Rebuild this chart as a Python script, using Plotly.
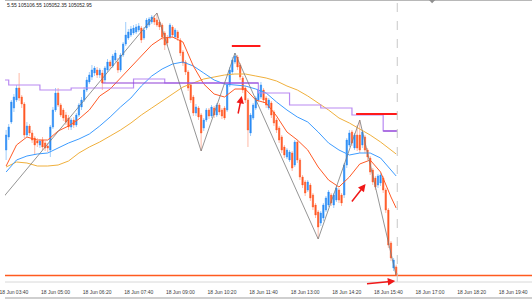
import pandas as pd
import plotly.graph_objects as go

# ---- data -------------------------------------------------------------
bar_times = pd.date_range("2025-06-18 03:25", periods=151, freq="5min")

opens = [105680,105745,105820,105890,105930,105990,105945,105910,105755,105800,
         105765,105740,105725,105705,105730,105715,105700,105680,105795,105880,
         105965,105905,105880,105855,105840,105795,105830,105805,105855,105895,
         105930,105980,106020,106045,106065,106080,106055,106065,106030,106080,
         106120,106100,106130,106120,106080,106155,106210,106240,106255,106265,
         106270,106280,106290,106240,106290,106305,106320,106340,106330,106320,
         106305,106265,106240,106245,106295,106245,106270,106230,106170,106120,
         106070,106005,105945,105865,105890,105855,105790,105830,105880,105850,
         105890,105855,105905,105880,105890,105880,106005,106070,106120,106145,
         106105,106040,105990,105930,105765,105840,105890,105930,105945,105980,
         105940,105890,105915,105870,105830,105790,105745,105695,105645,105630,
         105665,105605,105720,105630,105545,105520,105480,105505,105455,105405,
         105370,105315,105340,105380,105405,105455,105405,105430,105480,105455,
         105455,105605,105705,105770,105690,105755,105755,105705,105745,105680,
         105640,105580,105540,105505,105515,105540,105480,105380,105215,105090,
         105095.55]
highs = [105780,105810,105930,105960,106005,106065,105955,105920,105820,105810,
         105780,105750,105740,105735,105745,105725,105715,105805,105895,105990,
         105990,105915,105890,105870,105855,105840,105845,105865,105915,105945,
         105995,106045,106070,106105,106100,106095,106090,106080,106100,106135,
         106130,106160,106180,106140,106165,106220,106320,106285,106300,106305,
         106310,106315,106300,106295,106340,106345,106355,106355,106365,106330,
         106315,106275,106255,106315,106305,106290,106280,106240,106180,106130,
         106080,106015,105955,105910,105900,105865,105840,105890,105890,105905,
         105900,105915,105915,105890,105900,106015,106095,106145,106165,106155,
         106115,106050,106000,105940,105865,105915,105950,105990,106020,105990,
         105950,105940,105925,105880,105840,105800,105755,105705,105690,105680,
         105675,105730,105730,105640,105555,105530,105530,105515,105465,105415,
         105380,105375,105415,105450,105480,105465,105465,105500,105490,105465,
         105615,105740,105780,105780,105765,105805,105830,105780,105755,105690,
         105650,105590,105550,105560,105565,105550,105490,105390,105225,105140,
         105106.55]
lows = [105630,105730,105810,105870,105920,105925,105890,105740,105745,105750,
        105715,105655,105695,105690,105680,105675,105670,105645,105785,105870,
        105895,105845,105825,105805,105780,105780,105790,105795,105845,105880,
        105920,105970,106010,106030,106050,106040,106040,105980,106015,106070,
        106085,106090,106120,106065,106070,106145,106200,106230,106245,106255,
        106260,106270,106215,106230,106280,106295,106310,106305,106295,106280,
        106230,106180,106200,106235,106240,106235,106225,106150,106100,106055,
        105975,105915,105850,105850,105830,105675,105775,105820,105835,105840,
        105840,105845,105855,105835,105830,105870,105995,106060,106110,106080,
        106030,105965,105915,105695,105750,105830,105880,105920,105935,105915,
        105890,105880,105840,105800,105765,105715,105665,105640,105635,105620,
        105575,105595,105615,105530,105490,105450,105470,105425,105380,105340,
        105235,105300,105325,105370,105395,105400,105390,105420,105415,105400,
        105440,105590,105695,105700,105680,105675,105665,105690,105665,105630,
        105555,105505,105480,105490,105500,105465,105365,105190,105125,105075,
        105052.35]
closes = [105755,105795,105920,105945,105990,105940,105910,105755,105800,105765,
          105730,105705,105715,105725,105695,105690,105690,105795,105880,105965,
          105905,105855,105840,105820,105795,105830,105805,105855,105905,105930,
          105980,106030,106055,106080,106090,106055,106080,106015,106090,106120,
          106100,106150,106165,106080,106155,106210,106255,106270,106285,106290,
          106295,106300,106230,106280,106330,106335,106345,106320,106305,106295,
          106245,106205,106215,106305,106255,106280,106240,106165,106115,106070,
          105990,105930,105865,105895,105845,105765,105830,105880,105850,105895,
          105855,105905,105870,105850,105840,106005,106080,106130,106150,106095,
          106045,105980,105930,105780,105855,105905,105940,105980,106005,105930,
          105905,105930,105855,105815,105780,105730,105680,105655,105680,105670,
          105590,105720,105630,105545,105505,105465,105520,105440,105395,105355,
          105295,105365,105405,105440,105470,105415,105455,105490,105430,105415,
          105605,105730,105765,105715,105755,105690,105680,105770,105680,105645,
          105570,105520,105495,105550,105555,105480,105380,105205,105140,105130,
          105052.95]

# moving averages, read every 4th bar (plus the last bar)
ma_bars = list(range(0, 149, 4)) + [150]
ma_fast = [105600,105705,105745,105730,105730,105775,105800,105835,105880,105950,
           105985,106040,106095,106150,106205,106240,106245,106220,106100,106010,
           105960,105945,105985,105985,105930,105915,105850,105770,105730,105680,
           105595,105530,105495,105545,105610,105630,105570,105445,105390]
ma_mid = [105570,105630,105650,105660,105665,105690,105715,105735,105760,105800,
          105845,105895,105940,106000,106050,106085,106110,106120,106100,106065,
          106030,106010,106005,106000,105985,105965,105920,105880,105845,105820,
          105770,105715,105680,105655,105665,105665,105640,105580,105550]
ma_slow = [105595,105620,105615,105600,105600,105605,105625,105665,105695,105720,
           105750,105780,105815,105855,105890,105925,105960,105995,106015,106035,
           106045,106055,106060,106060,106050,106040,106025,106000,105980,105950,
           105915,105880,105840,105815,105785,105755,105720,105680,105660]

# hourly step indicator (two buffers)
step_times = ["2025-06-18 03:20", "2025-06-18 03:30", "2025-06-18 04:30", "2025-06-18 05:30",
              "2025-06-18 06:30", "2025-06-18 07:30", "2025-06-18 08:30", "2025-06-18 09:30",
              "2025-06-18 10:30", "2025-06-18 11:30", "2025-06-18 12:30", "2025-06-18 13:30",
              "2025-06-18 14:30", "2025-06-18 15:30", "2025-06-18 15:57"]
step_light = [106030, 106005, 105980, 105990, 105990, 106035, 106015, 106015,
              106015, 105965, 105905, 105890, 105855, 105775, 105775]
step_dark_times = ["2025-06-18 06:30", "2025-06-18 11:30", None, "2025-06-18 15:30", "2025-06-18 15:57"]
step_dark = [106015, 106015, None, 105775, 105775]

# zigzag pivots
zz_times = ["2025-06-18 03:20", "2025-06-18 08:15", "2025-06-18 09:40", "2025-06-18 10:45",
            "2025-06-18 13:25", "2025-06-18 14:45", "2025-06-18 15:55"]
zz_prices = [105445, 106365, 105675, 106165, 105235, 105830, 105052.35]

# horizontal level segments
levels = [("2025-06-18 10:39", "2025-06-18 11:34", 106200),
          ("2025-06-18 14:38", "2025-06-18 15:57", 105860)]

# arrows: (tail time, tail price, head time, head price)
arrows = [("2025-06-18 10:50:30", 105855, "2025-06-18 10:58", 105950),
          ("2025-06-18 14:27:36", 105415, "2025-06-18 14:56:12", 105510),
          ("2025-06-18 14:56", 105010, "2025-06-18 15:53:18", 105025)]

bid = 105052.95
now_time = "2025-06-18 15:57:06"
header = "5.55 105106.55 105052.35 105052.95"

# ---- figure -----------------------------------------------------------
BLUE, ORANGE = "#2b8cf5", "#ff5722"
fig = go.Figure()

# wicks (pale)
fig.add_trace(go.Candlestick(
    x=bar_times, open=opens, high=highs, low=lows, close=closes,
    increasing=dict(line=dict(color="#9fcdfb", width=1), fillcolor="#9fcdfb"),
    decreasing=dict(line=dict(color="#ffb9a6", width=1), fillcolor="#ffb9a6"),
    whiskerwidth=0, hoverinfo="skip", showlegend=False))
# bodies (solid)
body_hi = [max(o, c) for o, c in zip(opens, closes)]
body_lo = [min(o, c) for o, c in zip(opens, closes)]
fig.add_trace(go.Candlestick(
    x=bar_times, open=opens, high=body_hi, low=body_lo, close=closes,
    increasing=dict(line=dict(color=BLUE, width=0.3), fillcolor=BLUE),
    decreasing=dict(line=dict(color=ORANGE, width=0.3), fillcolor=ORANGE),
    whiskerwidth=0, hoverinfo="skip", showlegend=False))

ma_x = [bar_times[i] for i in ma_bars]
fig.add_trace(go.Scatter(x=ma_x, y=ma_slow, mode="lines",
                         line=dict(color="#f0b03c", width=1), showlegend=False))
fig.add_trace(go.Scatter(x=ma_x, y=ma_mid, mode="lines",
                         line=dict(color="#3d9cff", width=1), showlegend=False))
fig.add_trace(go.Scatter(x=ma_x, y=ma_fast, mode="lines",
                         line=dict(color="#ff5a26", width=1), showlegend=False))
fig.add_trace(go.Scatter(x=step_times, y=step_light, mode="lines", line_shape="hv",
                         line=dict(color="#b98af2", width=1.2), showlegend=False))
fig.add_trace(go.Scatter(x=step_dark_times, y=step_dark, mode="lines", line_shape="hv",
                         line=dict(color="#8f3fd6", width=1.2), connectgaps=False,
                         showlegend=False))
fig.add_trace(go.Scatter(x=zz_times, y=zz_prices, mode="lines",
                         line=dict(color="#7a7a7a", width=0.8), showlegend=False))

shapes = []
for t0, t1, p in levels:
    shapes.append(dict(type="line", xref="x", yref="y", x0=t0, x1=t1, y0=p, y1=p,
                       line=dict(color="#ff1a1a", width=2)))
# bid line
shapes.append(dict(type="line", xref="paper", yref="y", x0=0, x1=1, y0=bid, y1=bid,
                   line=dict(color="#ff5a1f", width=1.5)))
# current-bar dashed line
shapes.append(dict(type="line", xref="x", yref="paper", x0=now_time, x1=now_time,
                   y0=6 / 288, y1=1, line=dict(color="#c8c8c8", width=1, dash="dash")))
# frame lines
shapes.append(dict(type="line", xref="paper", yref="paper", x0=0, x1=1, y0=6 / 288, y1=6 / 288,
                   line=dict(color="#d8d8d8", width=1)))
shapes.append(dict(type="line", xref="paper", yref="paper", x0=0, x1=1, y0=1, y1=1,
                   line=dict(color="#a0a0a0", width=1.5)))
shapes.append(dict(type="rect", xref="paper", yref="paper", x0=0, x1=1,
                   y0=-11 / 288, y1=-9 / 288, line=dict(width=0), fillcolor="#cfcfcf"))
# chart-shift marker
shapes.append(dict(type="path", xref="paper", yref="paper",
                   path="M 0.8045 1 L 0.8165 1 L 0.8105 0.989 Z",
                   fillcolor="#909090", line=dict(width=0)))

annotations = []
for tt, tp, ht, hp in arrows:
    annotations.append(dict(x=ht, y=hp, xref="x", yref="y", ax=tt, ay=tp,
                            axref="x", ayref="y", showarrow=True, text="",
                            arrowhead=2, arrowsize=1, arrowwidth=1.5,
                            arrowcolor="#f01818"))
annotations.append(dict(x=0, y=1 - 5 / 288, xref="paper", yref="paper",
                        xanchor="left", yanchor="middle", showarrow=False,
                        text=header, font=dict(size=5, color="#202020",
                                               family="Liberation Sans")))

fig.update_layout(
    width=532, height=299,
    margin=dict(l=0, r=0, t=0, b=11),
    paper_bgcolor="white", plot_bgcolor="white",
    shapes=shapes, annotations=annotations,
    xaxis=dict(type="date",
               range=["2025-06-18 03:22:51", "2025-06-18 20:16:11"],
               tick0="2025-06-18 03:40", dtick=80 * 60 * 1000,
               tickformat="%d %b %H:%M", ticks="", showgrid=False,
               zeroline=False, showline=False, ticklabeloverflow="allow",
               tickfont=dict(size=5, color="#3a3a3a", family="Liberation Sans"),
               rangeslider=dict(visible=False), fixedrange=True),
    yaxis=dict(range=[104990, 106430], visible=False, fixedrange=True),
    font=dict(family="Liberation Sans"),
)

fig.write_html("out.html")
